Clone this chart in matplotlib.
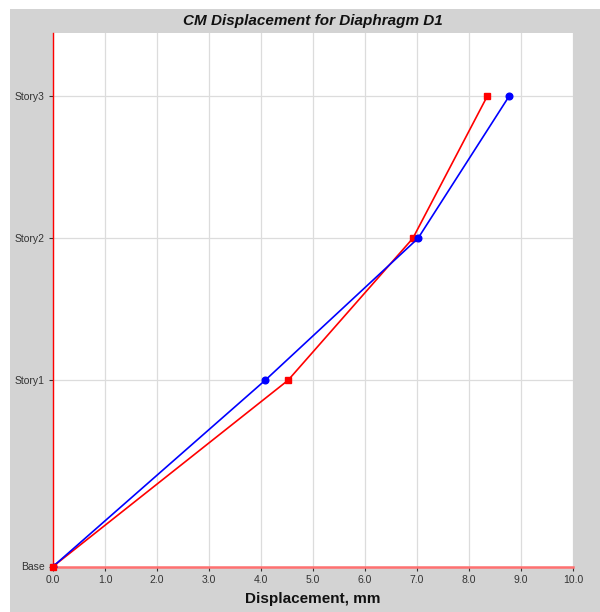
import numpy as np
import matplotlib.pyplot as plt
from matplotlib.patches import Rectangle

plt.rcParams['font.family'] = ['Liberation Sans', 'DejaVu Sans']

# storey names and elevations (m)
stories = ['Base', 'Story1', 'Story2', 'Story3']
elev = [0.0, 4.0, 7.05, 10.1]

# CM displacement (mm) for the two load cases
disp_blue = [0.0, 4.08, 7.02, 8.77]
disp_red = [0.0, 4.52, 6.92, 8.35]

xticks = np.arange(0, 10.01, 1.0)

fig = plt.figure(figsize=(6.0, 6.12), dpi=100, facecolor='white')
# grey panel behind the plot
fig.patches.append(Rectangle((10/600, 0), 1 - 10/600, 1 - 9/612, transform=fig.transFigure,
                             facecolor='#d3d3d3', edgecolor='none', zorder=-10))

ax = fig.add_axes([53/600, 1 - 566.5/612, 520/600, 533.5/612])
ax.set_facecolor('white')

ax.plot(disp_red, elev, color='#ff0000', lw=1.2, marker='s', ms=4.5, zorder=3)
ax.plot(disp_blue, elev, color='#0000ff', lw=1.2, marker='o', ms=4.8, zorder=3)
# base red marker sits on top, as in the reference
ax.plot(disp_red[:1], elev[:1], color='#ff0000', marker='s', ms=5, lw=0, zorder=4, clip_on=False)

ax.set_xlim(0, 10)
ax.set_ylim(0, 11.46)
ax.set_xticks(xticks)
ax.set_xticklabels(['%.1f' % v for v in xticks])
ax.set_yticks(elev)
ax.set_yticklabels(stories)
ax.tick_params(labelsize=7.5, length=3, width=0.8, colors='#333333', pad=3)

ax.grid(True, color='#dcdcdc', lw=0.9)
ax.set_axisbelow(True)

for s in ['top', 'right']:
    ax.spines[s].set_visible(False)
ax.spines['left'].set_color('#ff0000')
ax.spines['left'].set_linewidth(1.0)
ax.spines['left'].set_zorder(2.5)
ax.spines['bottom'].set_color('#ff7070')
ax.spines['bottom'].set_linewidth(1.8)

ax.set_xlabel('Displacement, mm', fontsize=11, fontweight='bold', labelpad=5, color='#111111')
ax.set_title('CM Displacement for Diaphragm D1', fontsize=11, fontweight='bold',
             fontstyle='italic', pad=6, color='#111111')

fig.savefig('out.png', dpi=100, facecolor=fig.get_facecolor())
